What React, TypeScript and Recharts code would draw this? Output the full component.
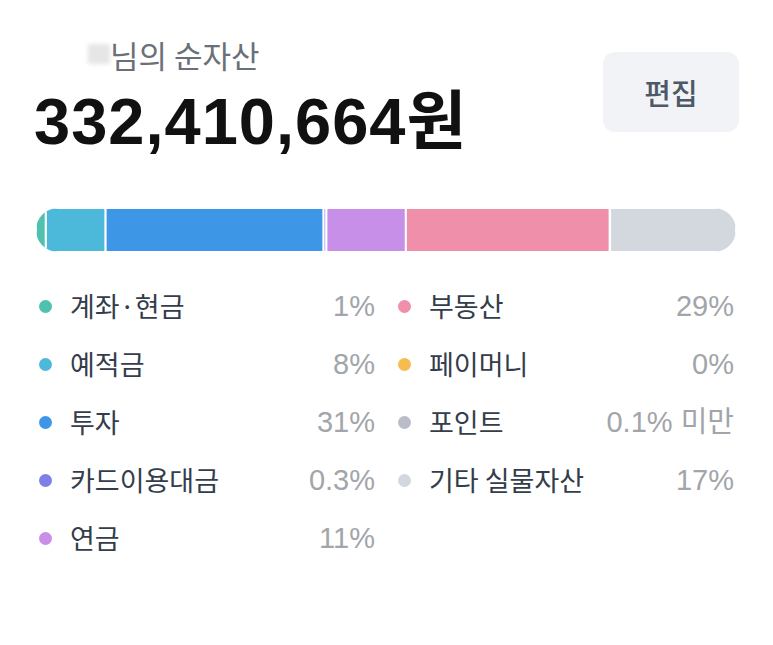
import { BarChart, Bar, XAxis, YAxis } from "recharts";

// asset categories, in bar order
const names = [
  "계좌·현금",
  "예적금",
  "투자",
  "카드이용대금",
  "연금",
  "부동산",
  "페이머니",
  "포인트",
  "기타 실물자산",
];
// share of the bar
const shares = [1.4, 8.5, 31, 0.4, 11.3, 29, 0, 0.05, 17.9];
// labels printed in the legend
const pctLabels = ["1%", "8%", "31%", "0.3%", "11%", "29%", "0%", "0.1% 미만", "17%"];
const colors = [
  "#4fc1ae",
  "#4cb8da",
  "#3d96e6",
  "#7f80e6",
  "#c78fe7",
  "#ef8fa9",
  "#f5bd4f",
  "#b9bdc7",
  "#d3d8df",
];

const total = shares.reduce((a, b) => a + b, 0);
const row: Record<string, string | number> = { name: "asset" };
names.forEach((n, i) => {
  row["s" + i] = shares[i];
});
const data = [row];

const font = '"Noto Sans CJK KR", "Noto Sans", sans-serif';
const latin = '"Liberation Sans", "Noto Sans CJK KR", sans-serif';

const LegendItem = ({ i, x, y }: { i: number; x: number; y: number }) => (
  <div style={{ position: "absolute", left: x, top: y, width: 336, height: 36 }}>
    <span
      style={{
        position: "absolute",
        left: 0,
        top: 12,
        width: 13,
        height: 13,
        borderRadius: "50%",
        background: colors[i],
      }}
    />
    <span
      style={{
        position: "absolute",
        left: 31,
        top: 0,
        fontSize: 27,
        lineHeight: "36px",
        color: "#333d4b",
        whiteSpace: "nowrap",
      }}
    >
      {names[i]}
    </span>
    <span
      style={{
        position: "absolute",
        right: 0,
        top: 0,
        fontFamily: latin,
        fontSize: 29,
        lineHeight: "36px",
        color: "#a2a5aa",
        whiteSpace: "nowrap",
      }}
    >
      {pctLabels[i]}
    </span>
  </div>
);

const App = () => {
  const leftCol = [0, 1, 2, 3, 4];
  const rightCol = [5, 6, 7, 8];
  return (
    <div
      style={{
        position: "relative",
        width: 773,
        height: 645,
        margin: -8,
        background: "#fff",
        fontFamily: font,
        overflow: "hidden",
      }}
    >
      {/* blurred name */}
      <div
        style={{
          position: "absolute",
          left: 88,
          top: 44,
          width: 22,
          height: 20,
          background: "#e6e6e6",
          filter: "blur(2px)",
        }}
      />
      <div
        style={{
          position: "absolute",
          left: 110,
          top: 35,
          fontSize: 31,
          lineHeight: "40px",
          color: "#6b7078",
          whiteSpace: "nowrap",
        }}
      >
        님의 순자산
      </div>
      <div
        style={{
          position: "absolute",
          left: 34,
          top: 82,
          fontFamily: latin,
          fontSize: 65,
          fontWeight: 700,
          lineHeight: "80px",
          letterSpacing: 1,
          color: "#111",
          whiteSpace: "nowrap",
        }}
      >
        332,410,664원
      </div>
      <div
        style={{
          position: "absolute",
          left: 603,
          top: 52,
          width: 136,
          height: 80,
          borderRadius: 12,
          background: "#f2f3f6",
          display: "flex",
          alignItems: "center",
          justifyContent: "center",
          fontSize: 29,
          fontWeight: 500,
          color: "#4e5968",
        }}
      >
        편집
      </div>

      <div
        style={{
          position: "absolute",
          left: 36,
          top: 208,
          width: 700,
          height: 44,
          borderRadius: 22,
          overflow: "hidden",
        }}
      >
        <BarChart
          width={700}
          height={44}
          data={data}
          layout="vertical"
          margin={{ top: 0, right: 0, bottom: 0, left: 0 }}
          barCategoryGap={0}
        >
          <XAxis type="number" hide domain={[0, total]} />
          <YAxis type="category" dataKey="name" hide />
          {names.map((n, i) => (
            <Bar
              key={n}
              dataKey={"s" + i}
              stackId="a"
              fill={colors[i]}
              stroke="#fff"
              strokeWidth={2}
              isAnimationActive={false}
            />
          ))}
        </BarChart>
      </div>

      {leftCol.map((i, k) => (
        <LegendItem key={i} i={i} x={39} y={288 + k * 58} />
      ))}
      {rightCol.map((i, k) => (
        <LegendItem key={i} i={i} x={398} y={288 + k * 58} />
      ))}
    </div>
  );
};

export default App;
